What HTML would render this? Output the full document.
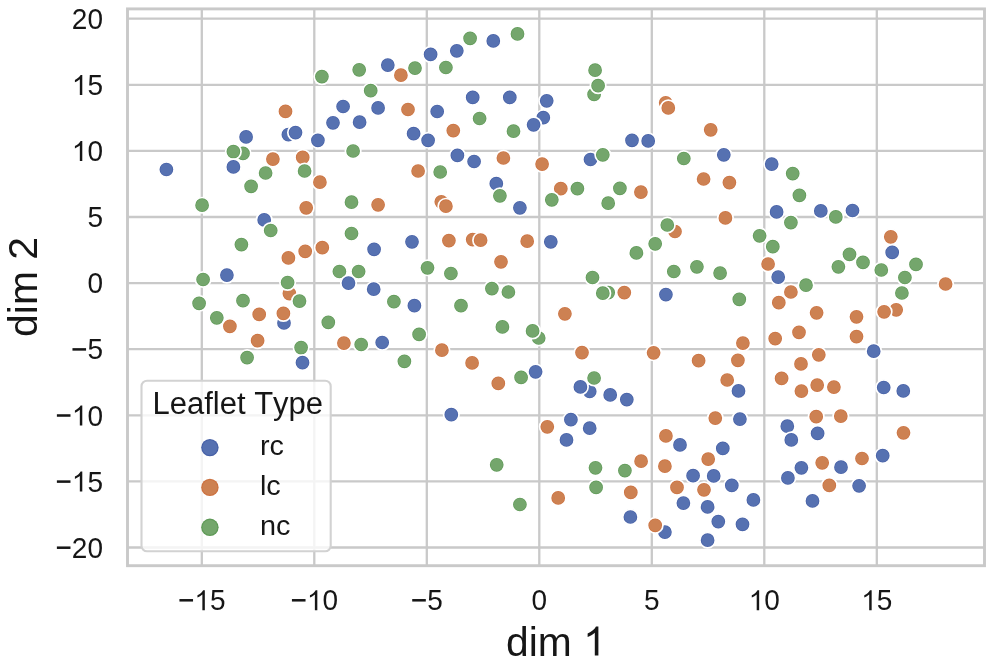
<!DOCTYPE html><html><head><meta charset="utf-8"><style>html,body{margin:0;padding:0;background:#fff;}body{width:992px;height:663px;overflow:hidden;}svg{display:block;}text{font-family:"Liberation Sans",sans-serif;font-kerning:none;}svg{will-change:transform;}</style></head><body>
<svg width="992" height="663" viewBox="0 0 992 663">
<path d="M201.8 8.9V565.7M314.3 8.9V565.7M426.8 8.9V565.7M539.3 8.9V565.7M651.8 8.9V565.7M764.3 8.9V565.7M876.8 8.9V565.7M127.5 547.5H984.5M127.5 481.4H984.5M127.5 415.3H984.5M127.5 349.2H984.5M127.5 283.1H984.5M127.5 217H984.5M127.5 150.9H984.5M127.5 84.8H984.5M127.5 18.7H984.5" stroke="#c9c9c9" stroke-width="2.3" fill="none"/>
<defs>
<radialGradient id="gB"><stop offset="0.730" stop-color="rgb(86,113,177)"/><stop offset="0.860" stop-color="rgb(68,94,165)"/><stop offset="1" stop-color="rgb(68,94,165)"/></radialGradient>
<radialGradient id="gO"><stop offset="0.730" stop-color="rgb(205,129,82)"/><stop offset="0.860" stop-color="rgb(204,112,62)"/><stop offset="1" stop-color="rgb(204,112,62)"/></radialGradient>
<radialGradient id="gG"><stop offset="0.730" stop-color="rgb(116,166,108)"/><stop offset="0.860" stop-color="rgb(92,152,84)"/><stop offset="1" stop-color="rgb(92,152,84)"/></radialGradient>
<radialGradient id="lB"><stop offset="0.78" stop-color="rgb(86,113,177)"/><stop offset="0.93" stop-color="rgb(68,94,165)"/><stop offset="1" stop-color="rgb(68,94,165)"/></radialGradient>
<radialGradient id="lO"><stop offset="0.78" stop-color="rgb(205,129,82)"/><stop offset="0.93" stop-color="rgb(204,112,62)"/><stop offset="1" stop-color="rgb(204,112,62)"/></radialGradient>
<radialGradient id="lG"><stop offset="0.78" stop-color="rgb(116,166,108)"/><stop offset="0.93" stop-color="rgb(92,152,84)"/><stop offset="1" stop-color="rgb(92,152,84)"/></radialGradient>
</defs>
<g stroke="#fff" stroke-width="1.7">
<circle cx="285.5" cy="111.4" r="7.7" fill="url(#gO)"/>
<circle cx="321.9" cy="76.6" r="7.7" fill="url(#gG)"/>
<circle cx="359.2" cy="69.8" r="7.7" fill="url(#gG)"/>
<circle cx="387.8" cy="65.1" r="7.7" fill="url(#gB)"/>
<circle cx="400.9" cy="75.2" r="7.7" fill="url(#gO)"/>
<circle cx="415.0" cy="68.1" r="7.7" fill="url(#gG)"/>
<circle cx="430.6" cy="54.4" r="7.7" fill="url(#gB)"/>
<circle cx="445.9" cy="67.5" r="7.7" fill="url(#gG)"/>
<circle cx="456.8" cy="50.8" r="7.7" fill="url(#gB)"/>
<circle cx="470.1" cy="38.3" r="7.7" fill="url(#gG)"/>
<circle cx="370.7" cy="90.7" r="7.7" fill="url(#gG)"/>
<circle cx="343.1" cy="106.5" r="7.7" fill="url(#gB)"/>
<circle cx="378.1" cy="107.9" r="7.7" fill="url(#gB)"/>
<circle cx="408.0" cy="109.5" r="7.7" fill="url(#gO)"/>
<circle cx="437.2" cy="111.5" r="7.7" fill="url(#gB)"/>
<circle cx="493.3" cy="40.9" r="7.7" fill="url(#gB)"/>
<circle cx="517.5" cy="33.9" r="7.7" fill="url(#gG)"/>
<circle cx="595.1" cy="70.2" r="7.7" fill="url(#gG)"/>
<circle cx="594.1" cy="94.4" r="7.7" fill="url(#gG)"/>
<circle cx="598.1" cy="85.7" r="7.7" fill="url(#gG)"/>
<circle cx="472.7" cy="97.4" r="7.7" fill="url(#gB)"/>
<circle cx="509.8" cy="97.4" r="7.7" fill="url(#gB)"/>
<circle cx="546.7" cy="100.8" r="7.7" fill="url(#gB)"/>
<circle cx="665.7" cy="102.8" r="7.7" fill="url(#gO)"/>
<circle cx="668.3" cy="107.9" r="7.7" fill="url(#gO)"/>
<circle cx="246.1" cy="136.9" r="7.7" fill="url(#gB)"/>
<circle cx="288.4" cy="134.7" r="7.7" fill="url(#gB)"/>
<circle cx="295.5" cy="132.6" r="7.7" fill="url(#gB)"/>
<circle cx="243.0" cy="153.4" r="7.7" fill="url(#gG)"/>
<circle cx="233.4" cy="151.6" r="7.7" fill="url(#gG)"/>
<circle cx="272.9" cy="159.1" r="7.7" fill="url(#gO)"/>
<circle cx="166.4" cy="169.5" r="7.7" fill="url(#gB)"/>
<circle cx="233.4" cy="166.9" r="7.7" fill="url(#gB)"/>
<circle cx="265.6" cy="173.0" r="7.7" fill="url(#gG)"/>
<circle cx="251.1" cy="186.3" r="7.7" fill="url(#gG)"/>
<circle cx="202.1" cy="205.2" r="7.7" fill="url(#gG)"/>
<circle cx="264.2" cy="219.9" r="7.7" fill="url(#gB)"/>
<circle cx="333.0" cy="122.8" r="7.7" fill="url(#gB)"/>
<circle cx="359.6" cy="122.2" r="7.7" fill="url(#gB)"/>
<circle cx="453.3" cy="130.6" r="7.7" fill="url(#gO)"/>
<circle cx="317.9" cy="140.3" r="7.7" fill="url(#gB)"/>
<circle cx="413.6" cy="133.7" r="7.7" fill="url(#gB)"/>
<circle cx="428.1" cy="140.3" r="7.7" fill="url(#gB)"/>
<circle cx="353.1" cy="151.0" r="7.7" fill="url(#gG)"/>
<circle cx="457.4" cy="155.4" r="7.7" fill="url(#gB)"/>
<circle cx="302.7" cy="157.4" r="7.7" fill="url(#gO)"/>
<circle cx="304.6" cy="171.0" r="7.7" fill="url(#gG)"/>
<circle cx="319.9" cy="182.2" r="7.7" fill="url(#gO)"/>
<circle cx="418.1" cy="171.0" r="7.7" fill="url(#gO)"/>
<circle cx="440.2" cy="172.0" r="7.7" fill="url(#gG)"/>
<circle cx="351.5" cy="202.2" r="7.7" fill="url(#gG)"/>
<circle cx="378.1" cy="204.8" r="7.7" fill="url(#gO)"/>
<circle cx="306.2" cy="207.8" r="7.7" fill="url(#gO)"/>
<circle cx="441.3" cy="201.8" r="7.7" fill="url(#gO)"/>
<circle cx="445.9" cy="206.2" r="7.7" fill="url(#gO)"/>
<circle cx="479.6" cy="118.5" r="7.7" fill="url(#gG)"/>
<circle cx="513.5" cy="131.2" r="7.7" fill="url(#gG)"/>
<circle cx="543.3" cy="117.7" r="7.7" fill="url(#gB)"/>
<circle cx="533.6" cy="124.8" r="7.7" fill="url(#gB)"/>
<circle cx="632.0" cy="140.3" r="7.7" fill="url(#gB)"/>
<circle cx="474.1" cy="161.5" r="7.7" fill="url(#gB)"/>
<circle cx="503.4" cy="158.0" r="7.7" fill="url(#gO)"/>
<circle cx="542.1" cy="164.1" r="7.7" fill="url(#gO)"/>
<circle cx="590.5" cy="159.5" r="7.7" fill="url(#gB)"/>
<circle cx="602.8" cy="154.8" r="7.7" fill="url(#gG)"/>
<circle cx="496.3" cy="183.7" r="7.7" fill="url(#gB)"/>
<circle cx="499.9" cy="195.8" r="7.7" fill="url(#gG)"/>
<circle cx="519.9" cy="207.8" r="7.7" fill="url(#gB)"/>
<circle cx="560.8" cy="188.7" r="7.7" fill="url(#gO)"/>
<circle cx="577.4" cy="188.7" r="7.7" fill="url(#gG)"/>
<circle cx="551.8" cy="199.8" r="7.7" fill="url(#gG)"/>
<circle cx="619.9" cy="188.3" r="7.7" fill="url(#gG)"/>
<circle cx="608.2" cy="203.2" r="7.7" fill="url(#gG)"/>
<circle cx="640.9" cy="192.1" r="7.7" fill="url(#gO)"/>
<circle cx="710.7" cy="129.8" r="7.7" fill="url(#gO)"/>
<circle cx="648.2" cy="140.9" r="7.7" fill="url(#gB)"/>
<circle cx="683.8" cy="158.5" r="7.7" fill="url(#gG)"/>
<circle cx="723.8" cy="154.8" r="7.7" fill="url(#gB)"/>
<circle cx="771.7" cy="164.1" r="7.7" fill="url(#gB)"/>
<circle cx="792.7" cy="173.6" r="7.7" fill="url(#gG)"/>
<circle cx="703.6" cy="179.0" r="7.7" fill="url(#gO)"/>
<circle cx="729.4" cy="182.6" r="7.7" fill="url(#gO)"/>
<circle cx="799.4" cy="195.3" r="7.7" fill="url(#gG)"/>
<circle cx="725.4" cy="217.9" r="7.7" fill="url(#gO)"/>
<circle cx="776.6" cy="211.9" r="7.7" fill="url(#gB)"/>
<circle cx="790.9" cy="222.6" r="7.7" fill="url(#gG)"/>
<circle cx="820.8" cy="210.9" r="7.7" fill="url(#gB)"/>
<circle cx="835.8" cy="216.9" r="7.7" fill="url(#gG)"/>
<circle cx="852.5" cy="210.5" r="7.7" fill="url(#gB)"/>
<circle cx="270.7" cy="230.5" r="7.7" fill="url(#gG)"/>
<circle cx="241.4" cy="244.6" r="7.7" fill="url(#gG)"/>
<circle cx="288.4" cy="257.9" r="7.7" fill="url(#gO)"/>
<circle cx="226.9" cy="275.1" r="7.7" fill="url(#gB)"/>
<circle cx="203.1" cy="279.5" r="7.7" fill="url(#gG)"/>
<circle cx="289.4" cy="293.6" r="7.7" fill="url(#gO)"/>
<circle cx="287.6" cy="282.5" r="7.7" fill="url(#gG)"/>
<circle cx="199.1" cy="303.3" r="7.7" fill="url(#gG)"/>
<circle cx="243.0" cy="300.7" r="7.7" fill="url(#gG)"/>
<circle cx="216.8" cy="317.8" r="7.7" fill="url(#gG)"/>
<circle cx="229.9" cy="326.3" r="7.7" fill="url(#gO)"/>
<circle cx="259.2" cy="314.4" r="7.7" fill="url(#gO)"/>
<circle cx="284.0" cy="322.9" r="7.7" fill="url(#gB)"/>
<circle cx="283.4" cy="313.4" r="7.7" fill="url(#gO)"/>
<circle cx="351.5" cy="233.5" r="7.7" fill="url(#gG)"/>
<circle cx="305.2" cy="251.3" r="7.7" fill="url(#gO)"/>
<circle cx="322.3" cy="247.7" r="7.7" fill="url(#gO)"/>
<circle cx="374.1" cy="249.3" r="7.7" fill="url(#gB)"/>
<circle cx="412.0" cy="241.8" r="7.7" fill="url(#gB)"/>
<circle cx="448.9" cy="240.6" r="7.7" fill="url(#gO)"/>
<circle cx="339.4" cy="271.5" r="7.7" fill="url(#gG)"/>
<circle cx="358.6" cy="271.5" r="7.7" fill="url(#gG)"/>
<circle cx="348.5" cy="283.1" r="7.7" fill="url(#gB)"/>
<circle cx="373.7" cy="289.2" r="7.7" fill="url(#gB)"/>
<circle cx="427.5" cy="267.8" r="7.7" fill="url(#gG)"/>
<circle cx="450.9" cy="273.5" r="7.7" fill="url(#gG)"/>
<circle cx="299.5" cy="301.1" r="7.7" fill="url(#gG)"/>
<circle cx="393.9" cy="301.7" r="7.7" fill="url(#gG)"/>
<circle cx="414.4" cy="305.7" r="7.7" fill="url(#gB)"/>
<circle cx="461.0" cy="305.7" r="7.7" fill="url(#gG)"/>
<circle cx="328.3" cy="322.3" r="7.7" fill="url(#gG)"/>
<circle cx="419.1" cy="334.4" r="7.7" fill="url(#gG)"/>
<circle cx="472.7" cy="239.6" r="7.7" fill="url(#gO)"/>
<circle cx="480.6" cy="240.2" r="7.7" fill="url(#gO)"/>
<circle cx="527.2" cy="241.2" r="7.7" fill="url(#gO)"/>
<circle cx="550.8" cy="241.8" r="7.7" fill="url(#gB)"/>
<circle cx="501.0" cy="261.8" r="7.7" fill="url(#gO)"/>
<circle cx="636.4" cy="252.9" r="7.7" fill="url(#gG)"/>
<circle cx="592.5" cy="277.5" r="7.7" fill="url(#gG)"/>
<circle cx="608.2" cy="292.6" r="7.7" fill="url(#gG)"/>
<circle cx="602.8" cy="293.2" r="7.7" fill="url(#gG)"/>
<circle cx="624.3" cy="292.6" r="7.7" fill="url(#gO)"/>
<circle cx="491.9" cy="288.6" r="7.7" fill="url(#gG)"/>
<circle cx="508.4" cy="292.0" r="7.7" fill="url(#gG)"/>
<circle cx="564.9" cy="313.8" r="7.7" fill="url(#gO)"/>
<circle cx="502.4" cy="326.9" r="7.7" fill="url(#gG)"/>
<circle cx="538.7" cy="338.0" r="7.7" fill="url(#gG)"/>
<circle cx="532.6" cy="330.9" r="7.7" fill="url(#gG)"/>
<circle cx="675.0" cy="231.5" r="7.7" fill="url(#gO)"/>
<circle cx="667.3" cy="225.0" r="7.7" fill="url(#gG)"/>
<circle cx="655.2" cy="243.8" r="7.7" fill="url(#gG)"/>
<circle cx="759.6" cy="235.8" r="7.7" fill="url(#gG)"/>
<circle cx="772.8" cy="246.7" r="7.7" fill="url(#gG)"/>
<circle cx="768.1" cy="264.0" r="7.7" fill="url(#gO)"/>
<circle cx="778.2" cy="277.1" r="7.7" fill="url(#gB)"/>
<circle cx="673.8" cy="271.5" r="7.7" fill="url(#gG)"/>
<circle cx="696.9" cy="266.8" r="7.7" fill="url(#gG)"/>
<circle cx="720.1" cy="273.1" r="7.7" fill="url(#gG)"/>
<circle cx="806.0" cy="285.2" r="7.7" fill="url(#gG)"/>
<circle cx="665.9" cy="294.6" r="7.7" fill="url(#gB)"/>
<circle cx="739.3" cy="299.3" r="7.7" fill="url(#gG)"/>
<circle cx="790.9" cy="292.0" r="7.7" fill="url(#gO)"/>
<circle cx="778.8" cy="302.7" r="7.7" fill="url(#gO)"/>
<circle cx="799.0" cy="332.3" r="7.7" fill="url(#gO)"/>
<circle cx="775.2" cy="338.6" r="7.7" fill="url(#gO)"/>
<circle cx="816.6" cy="312.8" r="7.7" fill="url(#gO)"/>
<circle cx="890.8" cy="236.8" r="7.7" fill="url(#gO)"/>
<circle cx="892.2" cy="252.3" r="7.7" fill="url(#gB)"/>
<circle cx="849.5" cy="254.3" r="7.7" fill="url(#gG)"/>
<circle cx="863.0" cy="262.4" r="7.7" fill="url(#gG)"/>
<circle cx="838.4" cy="266.8" r="7.7" fill="url(#gG)"/>
<circle cx="881.3" cy="270.0" r="7.7" fill="url(#gG)"/>
<circle cx="916.0" cy="264.4" r="7.7" fill="url(#gG)"/>
<circle cx="904.9" cy="277.5" r="7.7" fill="url(#gG)"/>
<circle cx="901.9" cy="293.0" r="7.7" fill="url(#gG)"/>
<circle cx="945.6" cy="284.0" r="7.7" fill="url(#gO)"/>
<circle cx="856.5" cy="316.8" r="7.7" fill="url(#gO)"/>
<circle cx="896.2" cy="309.8" r="7.7" fill="url(#gO)"/>
<circle cx="884.1" cy="311.8" r="7.7" fill="url(#gO)"/>
<circle cx="856.5" cy="336.6" r="7.7" fill="url(#gO)"/>
<circle cx="257.6" cy="340.7" r="7.7" fill="url(#gO)"/>
<circle cx="247.1" cy="357.6" r="7.7" fill="url(#gG)"/>
<circle cx="301.1" cy="347.6" r="7.7" fill="url(#gG)"/>
<circle cx="302.5" cy="362.7" r="7.7" fill="url(#gB)"/>
<circle cx="343.9" cy="343.1" r="7.7" fill="url(#gO)"/>
<circle cx="361.2" cy="344.5" r="7.7" fill="url(#gG)"/>
<circle cx="382.2" cy="342.5" r="7.7" fill="url(#gB)"/>
<circle cx="404.4" cy="361.3" r="7.7" fill="url(#gG)"/>
<circle cx="441.9" cy="350.2" r="7.7" fill="url(#gO)"/>
<circle cx="451.3" cy="414.7" r="7.7" fill="url(#gB)"/>
<circle cx="582.0" cy="352.6" r="7.7" fill="url(#gO)"/>
<circle cx="472.1" cy="362.9" r="7.7" fill="url(#gO)"/>
<circle cx="498.3" cy="383.4" r="7.7" fill="url(#gO)"/>
<circle cx="521.1" cy="377.4" r="7.7" fill="url(#gG)"/>
<circle cx="535.6" cy="371.8" r="7.7" fill="url(#gB)"/>
<circle cx="589.7" cy="391.5" r="7.7" fill="url(#gB)"/>
<circle cx="594.1" cy="378.0" r="7.7" fill="url(#gG)"/>
<circle cx="580.4" cy="386.9" r="7.7" fill="url(#gB)"/>
<circle cx="610.2" cy="394.9" r="7.7" fill="url(#gB)"/>
<circle cx="626.8" cy="399.6" r="7.7" fill="url(#gB)"/>
<circle cx="570.9" cy="419.7" r="7.7" fill="url(#gB)"/>
<circle cx="547.3" cy="426.8" r="7.7" fill="url(#gO)"/>
<circle cx="589.7" cy="428.2" r="7.7" fill="url(#gB)"/>
<circle cx="566.5" cy="439.9" r="7.7" fill="url(#gB)"/>
<circle cx="742.9" cy="343.1" r="7.7" fill="url(#gO)"/>
<circle cx="653.6" cy="352.8" r="7.7" fill="url(#gO)"/>
<circle cx="698.6" cy="360.7" r="7.7" fill="url(#gO)"/>
<circle cx="737.9" cy="360.3" r="7.7" fill="url(#gO)"/>
<circle cx="727.2" cy="380.0" r="7.7" fill="url(#gO)"/>
<circle cx="738.5" cy="390.9" r="7.7" fill="url(#gB)"/>
<circle cx="801.0" cy="363.9" r="7.7" fill="url(#gO)"/>
<circle cx="781.6" cy="378.4" r="7.7" fill="url(#gO)"/>
<circle cx="801.4" cy="391.1" r="7.7" fill="url(#gO)"/>
<circle cx="715.3" cy="418.1" r="7.7" fill="url(#gO)"/>
<circle cx="739.9" cy="419.1" r="7.7" fill="url(#gB)"/>
<circle cx="787.3" cy="426.2" r="7.7" fill="url(#gB)"/>
<circle cx="791.3" cy="439.9" r="7.7" fill="url(#gB)"/>
<circle cx="665.9" cy="435.9" r="7.7" fill="url(#gO)"/>
<circle cx="680.0" cy="444.9" r="7.7" fill="url(#gB)"/>
<circle cx="722.8" cy="448.4" r="7.7" fill="url(#gB)"/>
<circle cx="873.7" cy="351.2" r="7.7" fill="url(#gB)"/>
<circle cx="818.8" cy="354.8" r="7.7" fill="url(#gO)"/>
<circle cx="817.2" cy="385.1" r="7.7" fill="url(#gO)"/>
<circle cx="833.9" cy="387.1" r="7.7" fill="url(#gO)"/>
<circle cx="883.7" cy="387.5" r="7.7" fill="url(#gB)"/>
<circle cx="903.3" cy="390.9" r="7.7" fill="url(#gB)"/>
<circle cx="816.2" cy="416.7" r="7.7" fill="url(#gO)"/>
<circle cx="840.8" cy="416.1" r="7.7" fill="url(#gO)"/>
<circle cx="817.6" cy="433.4" r="7.7" fill="url(#gB)"/>
<circle cx="903.5" cy="432.8" r="7.7" fill="url(#gO)"/>
<circle cx="496.7" cy="464.8" r="7.7" fill="url(#gG)"/>
<circle cx="519.9" cy="504.5" r="7.7" fill="url(#gG)"/>
<circle cx="595.5" cy="467.8" r="7.7" fill="url(#gG)"/>
<circle cx="624.9" cy="470.6" r="7.7" fill="url(#gG)"/>
<circle cx="641.1" cy="461.2" r="7.7" fill="url(#gO)"/>
<circle cx="596.1" cy="487.4" r="7.7" fill="url(#gG)"/>
<circle cx="558.2" cy="497.9" r="7.7" fill="url(#gO)"/>
<circle cx="630.8" cy="492.4" r="7.7" fill="url(#gO)"/>
<circle cx="630.4" cy="517.0" r="7.7" fill="url(#gB)"/>
<circle cx="664.9" cy="466.2" r="7.7" fill="url(#gO)"/>
<circle cx="708.2" cy="459.1" r="7.7" fill="url(#gO)"/>
<circle cx="693.1" cy="475.7" r="7.7" fill="url(#gB)"/>
<circle cx="713.7" cy="475.9" r="7.7" fill="url(#gB)"/>
<circle cx="731.8" cy="485.4" r="7.7" fill="url(#gB)"/>
<circle cx="677.0" cy="487.4" r="7.7" fill="url(#gO)"/>
<circle cx="704.0" cy="489.8" r="7.7" fill="url(#gO)"/>
<circle cx="683.4" cy="503.1" r="7.7" fill="url(#gB)"/>
<circle cx="707.6" cy="506.9" r="7.7" fill="url(#gB)"/>
<circle cx="753.4" cy="499.9" r="7.7" fill="url(#gB)"/>
<circle cx="718.3" cy="521.6" r="7.7" fill="url(#gB)"/>
<circle cx="742.5" cy="524.3" r="7.7" fill="url(#gB)"/>
<circle cx="664.9" cy="532.1" r="7.7" fill="url(#gB)"/>
<circle cx="655.2" cy="525.3" r="7.7" fill="url(#gO)"/>
<circle cx="707.6" cy="540.2" r="7.7" fill="url(#gB)"/>
<circle cx="801.4" cy="467.8" r="7.7" fill="url(#gB)"/>
<circle cx="787.9" cy="477.9" r="7.7" fill="url(#gB)"/>
<circle cx="812.5" cy="500.9" r="7.7" fill="url(#gB)"/>
<circle cx="822.2" cy="462.8" r="7.7" fill="url(#gO)"/>
<circle cx="841.0" cy="467.2" r="7.7" fill="url(#gB)"/>
<circle cx="862.0" cy="458.5" r="7.7" fill="url(#gO)"/>
<circle cx="882.7" cy="455.7" r="7.7" fill="url(#gB)"/>
<circle cx="829.3" cy="485.4" r="7.7" fill="url(#gO)"/>
<circle cx="859.1" cy="485.8" r="7.7" fill="url(#gB)"/>
</g>
<rect x="127.5" y="8.9" width="857" height="556.8" fill="none" stroke="#c9c9c9" stroke-width="2.9" stroke-linecap="square"/>
<g fill="#161616">
<rect x="141.5" y="380.7" width="189.2" height="170.6" rx="5.6" ry="5.6" fill="#fff" fill-opacity="0.8" stroke="#d2d2d2" stroke-width="2.1"/>
<text transform="translate(152.5 414)" font-size="31">Leaflet Type</text>
<circle cx="209.9" cy="447.6" r="8.7" fill="url(#lB)"/>
<text transform="translate(259.9 455.2) scale(1.03 1.0)" font-size="28">rc</text>
<circle cx="209.9" cy="487.4" r="8.7" fill="url(#lO)"/>
<text transform="translate(259.9 495) scale(1.03 1.0)" font-size="28">lc</text>
<circle cx="209.9" cy="527.3" r="8.7" fill="url(#lG)"/>
<text transform="translate(259.9 534.9) scale(1.03 1.0)" font-size="28">nc</text>
<rect x="179.43" y="599.04" width="13.6" height="2.52"/>
<text transform="translate(194.4 610.3) scale(1.0 1.0407)" font-size="28"> 5</text>
<path transform="translate(194.4 610.3) scale(0.01367 -0.01367)" d="M763 0L583 0L583 1147Q518 1085 412.5 1023Q307 961 223 930L223 1104Q374 1175 484.5 1273.5Q595 1372 642 1466L763 1466Z"/>
<rect x="291.93" y="599.04" width="13.6" height="2.52"/>
<text transform="translate(306.9 610.3) scale(1.0 1.0407)" font-size="28"> 0</text>
<path transform="translate(306.9 610.3) scale(0.01367 -0.01367)" d="M763 0L583 0L583 1147Q518 1085 412.5 1023Q307 961 223 930L223 1104Q374 1175 484.5 1273.5Q595 1372 642 1466L763 1466Z"/>
<rect x="412.22" y="599.04" width="13.6" height="2.52"/>
<text transform="translate(427.19 610.3) scale(1.0 1.0407)" font-size="28">5</text>
<text transform="translate(531.51 610.3) scale(1.0 1.0407)" font-size="28">0</text>
<text transform="translate(644.01 610.3) scale(1.0 1.0407)" font-size="28">5</text>
<text transform="translate(748.73 610.3) scale(1.0 1.0407)" font-size="28"> 0</text>
<path transform="translate(748.73 610.3) scale(0.01367 -0.01367)" d="M763 0L583 0L583 1147Q518 1085 412.5 1023Q307 961 223 930L223 1104Q374 1175 484.5 1273.5Q595 1372 642 1466L763 1466Z"/>
<text transform="translate(861.23 610.3) scale(1.0 1.0407)" font-size="28"> 5</text>
<path transform="translate(861.23 610.3) scale(0.01367 -0.01367)" d="M763 0L583 0L583 1147Q518 1085 412.5 1023Q307 961 223 930L223 1104Q374 1175 484.5 1273.5Q595 1372 642 1466L763 1466Z"/>
<rect x="56.88" y="546.44" width="13.6" height="2.52"/>
<text transform="translate(71.86 557.7) scale(1.0 1.0407)" font-size="28">20</text>
<rect x="56.88" y="480.34" width="13.6" height="2.52"/>
<text transform="translate(71.86 491.6) scale(1.0 1.0407)" font-size="28"> 5</text>
<path transform="translate(71.86 491.6) scale(0.01367 -0.01367)" d="M763 0L583 0L583 1147Q518 1085 412.5 1023Q307 961 223 930L223 1104Q374 1175 484.5 1273.5Q595 1372 642 1466L763 1466Z"/>
<rect x="56.88" y="414.24" width="13.6" height="2.52"/>
<text transform="translate(71.86 425.5) scale(1.0 1.0407)" font-size="28"> 0</text>
<path transform="translate(71.86 425.5) scale(0.01367 -0.01367)" d="M763 0L583 0L583 1147Q518 1085 412.5 1023Q307 961 223 930L223 1104Q374 1175 484.5 1273.5Q595 1372 642 1466L763 1466Z"/>
<rect x="72.46" y="348.14" width="13.6" height="2.52"/>
<text transform="translate(87.43 359.4) scale(1.0 1.0407)" font-size="28">5</text>
<text transform="translate(87.43 293.3) scale(1.0 1.0407)" font-size="28">0</text>
<text transform="translate(87.43 227.2) scale(1.0 1.0407)" font-size="28">5</text>
<text transform="translate(71.86 161.1) scale(1.0 1.0407)" font-size="28"> 0</text>
<path transform="translate(71.86 161.1) scale(0.01367 -0.01367)" d="M763 0L583 0L583 1147Q518 1085 412.5 1023Q307 961 223 930L223 1104Q374 1175 484.5 1273.5Q595 1372 642 1466L763 1466Z"/>
<text transform="translate(71.86 95) scale(1.0 1.0407)" font-size="28"> 5</text>
<path transform="translate(71.86 95) scale(0.01367 -0.01367)" d="M763 0L583 0L583 1147Q518 1085 412.5 1023Q307 961 223 930L223 1104Q374 1175 484.5 1273.5Q595 1372 642 1466L763 1466Z"/>
<text transform="translate(71.86 28.9) scale(1.0 1.0407)" font-size="28">20</text>
<text transform="translate(506.12 655.6)" font-size="40.8">dim  </text>
<path transform="translate(583.19 655.6) scale(0.01992 -0.01992)" d="M763 0L583 0L583 1147Q518 1085 412.5 1023Q307 961 223 930L223 1104Q374 1175 484.5 1273.5Q595 1372 642 1466L763 1466Z"/>
<text transform="translate(37.2 287) rotate(-90)" font-size="40.8" text-anchor="middle">dim 2</text>
</g>
</svg></body></html>
